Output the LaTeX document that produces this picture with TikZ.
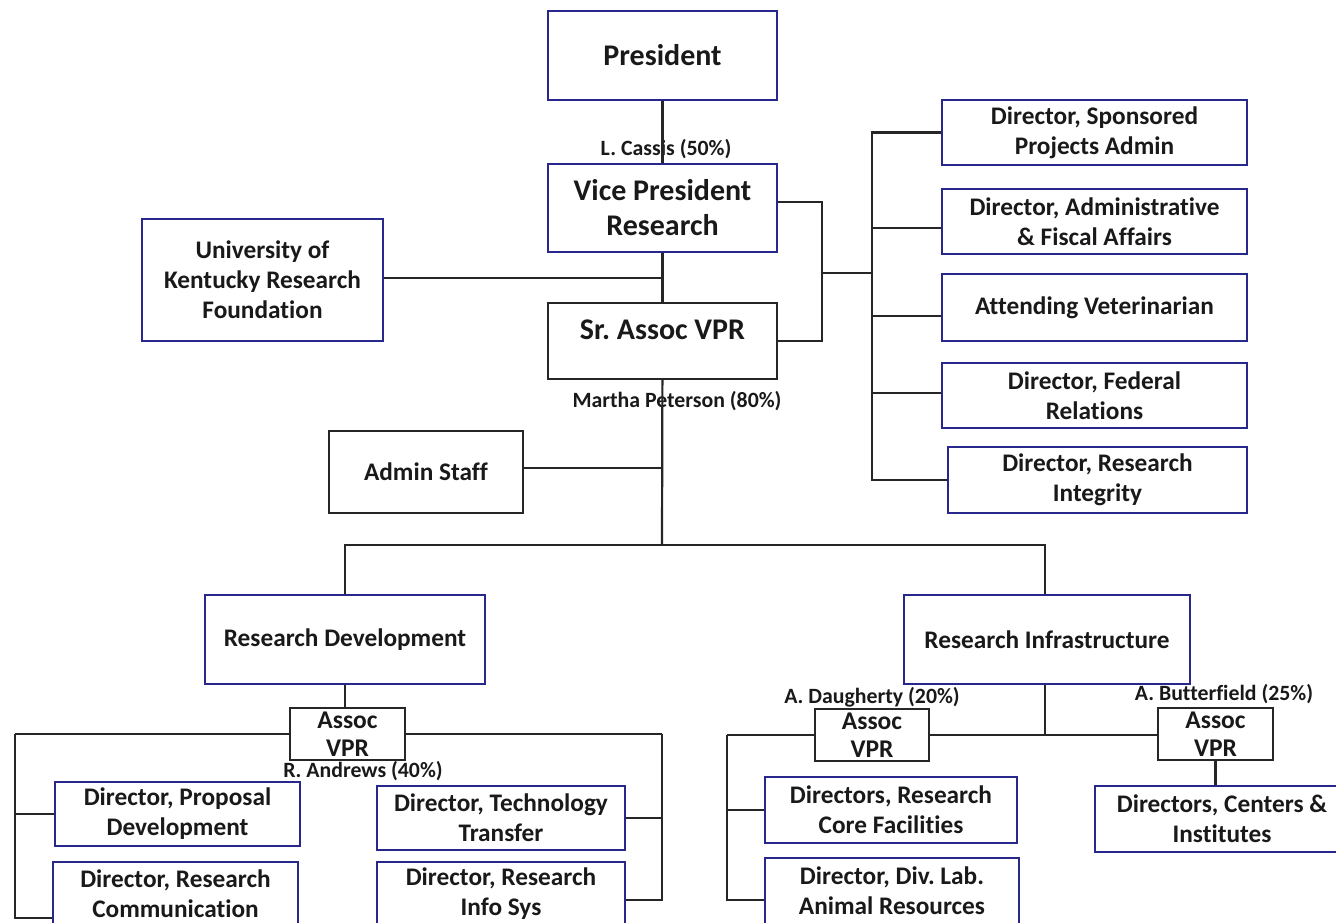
\documentclass[tikz,border=0pt]{standalone}
\usepackage{fontspec}
\setmainfont{Carlito}[RawFeature={-liga;-calt;-clig}]
\definecolor{navy}{RGB}{40,40,140}
\definecolor{ink}{RGB}{25,25,25}
\tikzset{
  bx/.style={draw=navy, line width=1.8pt, inner sep=0pt, align=center, text=ink,
    font=\bfseries\fontsize{25.3}{30}\selectfont},
  kb/.style={bx, draw=black!85},
  big/.style={font=\bfseries\fontsize{30}{35}\selectfont},
  assoc/.style={kb, font=\bfseries\fontsize{25.5}{28}\selectfont},
  lbl/.style={inner sep=0pt, text=ink, font=\bfseries\fontsize{21.8}{24}\selectfont},
  ln/.style={draw=black!85, line width=2.2pt}
}
\frenchspacing
\begin{document}
\frenchspacing
\begin{tikzpicture}[x=1pt,y=-1pt]
\useasboundingbox (0,0) rectangle (1336,922);
% top chain
\node[bx,big,minimum width=229,minimum height=89] (pres) at (662.5,55.5) {President};
\node[bx,big,minimum width=229,minimum height=88] (vp) at (662.5,208) {Vice President\\Research};
\node[kb,big,minimum width=229,minimum height=76] (sr) at (662.5,341) {Sr. Assoc VPR\\[-12pt]\mbox{}};
\node[bx,minimum width=241,minimum height=122] (ukrf) at (262.5,280) {University of\\Kentucky Research\\Foundation};
\node[kb,minimum width=194,minimum height=82] (adm) at (426,472) {Admin Staff};
% right column
\node[bx,minimum width=305,minimum height=65] (spa) at (1094.5,132.5) {Director, Sponsored\\Projects Admin};
\node[bx,minimum width=305,minimum height=65] (afa) at (1094.5,221.5) {Director, Administrative\\\& Fiscal Affairs};
\node[bx,minimum width=305,minimum height=67] (av) at (1094.5,307.5) {Attending Veterinarian};
\node[bx,minimum width=305,minimum height=65] (fr) at (1094.5,395.5) {Director, Federal\\Relations};
\node[bx,minimum width=299,minimum height=66] (rig) at (1097.5,480) {Director, Research\\Integrity};
% second level
\node[bx,minimum width=280,minimum height=89] (rd) at (345,639.5) {Research Development};
\node[bx,minimum width=286,minimum height=89] (ri) at (1047,639.5) {Research Infrastructure};
\node[assoc,minimum width=115,minimum height=52] (a1) at (347.5,734) {Assoc\\VPR};
\node[assoc,minimum width=114,minimum height=52] (a2) at (872,735) {Assoc\\VPR};
\node[assoc,minimum width=115,minimum height=52] (a3) at (1215.5,734) {Assoc\\VPR};
% bottom boxes
\node[bx,minimum width=245,minimum height=64] (pd) at (177.5,814) {Director, Proposal\\Development};
\node[bx,minimum width=245,minimum height=64] (rc) at (175.5,894) {Director, Research\\Communication};
\node[bx,minimum width=248,minimum height=64] (tt) at (501,818) {Director, Technology\\Transfer};
\node[bx,minimum width=248,minimum height=64] (is) at (501,894) {Director, Research\\Info Sys};
\node[bx,minimum width=252,minimum height=66] (cf) at (891,810) {Directors, Research\\Core Facilities};
\node[bx,minimum width=254,minimum height=66] (dl) at (892,891) {Director, Div. Lab.\\Animal Resources};
\node[bx,minimum width=254,minimum height=66] (ci) at (1222,819) {Directors, Centers \&\\Institutes};
% labels
\node[lbl] (lcas) at (666,149) {L. Cassis (50\%)};
\node[lbl] (lmp) at (677,401) {Martha Peterson (80\%)};
\node[lbl] (lra) at (363,771) {R. Andrews (40\%)};
\node[lbl] (lad) at (872,697) {A. Daugherty (20\%)};
\node[lbl] (lab) at (1224,694) {A. Butterfield (25\%)};
% coordinates
\coordinate (bm) at (822,273);
\coordinate (sp) at (872,273);
\coordinate (j1) at (662,545);
\coordinate (l1) at (15,734);
\coordinate (r1) at (662,734);
\coordinate (j2) at (1045,735);
\coordinate (l2) at (727,735);
\coordinate (yrc) at (0,918);
\coordinate (yis) at (0,900);
\coordinate (ydl) at (0,900);
\coordinate (yuk) at (0,278);
\coordinate (yvp) at (0,202);
\coordinate (yafa) at (0,228);
\coordinate (yav) at (0,316);
\coordinate (yfr) at (0,393);
\coordinate (yad) at (0,468);
% connectors
\begin{scope}[ln]
\draw (pres) -- (vp);
\draw (vp) -- (sr);
\draw (ukrf.east |- yuk) -- (vp.south |- yuk);
\draw (vp.east |- yvp) -| (bm) |- (sr.east);
\draw (bm) -- (sp);
\draw (spa.west) -| (sp);
\draw (afa.west |- yafa) -| (sp);
\draw (av.west |- yav) -| (sp);
\draw (fr.west |- yfr) -| (sp);
\draw (rig.west) -| (sp);
\draw (sr) -- (j1);
\draw (adm.east |- yad) -- (j1 |- yad);
\draw (rd.north) |- (j1) -| (j2 |- ri.north);
\draw (rd.south) -- (rd.south |- a1.north);
\draw (a1.west) -- (l1);
\draw (pd.west) -| (l1);
\draw (rc.west |- yrc) -| (l1);
\draw (a1.east) -- (r1);
\draw (tt.east) -| (r1);
\draw (is.east |- yis) -| (r1);
\draw (j2 |- ri.south) -- (j2);
\draw (a2.east) -- (a3.west |- a2.east);
\draw (a2.west) -- (l2);
\draw (cf.west) -| (l2);
\draw (dl.west |- ydl) -| (l2);
\draw (a3.south) -- (a3.south |- ci.north);
\end{scope}
\end{tikzpicture}
\end{document}
